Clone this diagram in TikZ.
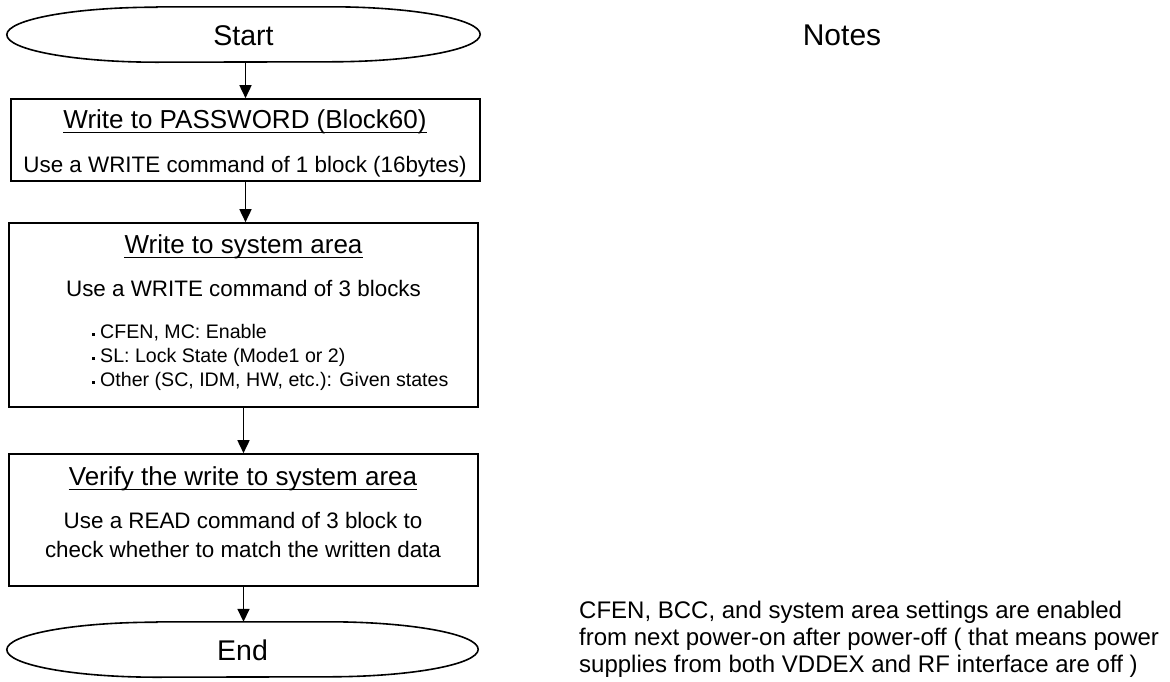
\documentclass[tikz,border=0pt]{standalone}
\usepackage{fontspec}
\setmainfont{Liberation Sans}
\usetikzlibrary{arrows.meta}
\tikzset{
 box/.style={draw, line width=1.6pt, inner sep=0pt, rectangle},
 termnode/.style={inner sep=0pt, rectangle},
 term/.style={line width=1.6pt},
 flow/.style={line width=1.6pt, -{Triangle[length=13pt,width=12pt]}},
 ttl/.style={inner sep=0pt, anchor=base, font=\fontsize{26}{30}\selectfont},
 body/.style={inner sep=0pt, anchor=base, font=\fontsize{22.4}{27}\selectfont},
 bul/.style={inner sep=0pt, anchor=base west, font=\fontsize{19.6}{24}\selectfont},
 big/.style={inner sep=0pt, anchor=base, font=\fontsize{28.5}{34}\selectfont},
 uline/.style={line width=1pt},
 note/.style={inner sep=0pt, anchor=base west, font=\fontsize{24}{27}\selectfont},
}
\newcommand{\bulsq}{\raisebox{2.2pt}{\rule{3pt}{3pt}}\hspace{5pt}}
\begin{document}
\begin{tikzpicture}[x=1pt,y=1pt]
\useasboundingbox (0,0) rectangle (1170,-681);
% terminals
\node[termnode, minimum width=473pt, minimum height=55pt] (start) at (243.5,-34.5) {};
\draw[term] ([xshift=150pt]start.north west) -- ([xshift=-150pt]start.north east)
  arc[start angle=90, end angle=-90, x radius=150pt, y radius=27.5pt]
  -- ([xshift=150pt]start.south west)
  arc[start angle=270, end angle=90, x radius=150pt, y radius=27.5pt] -- cycle;
\node[big] (tstart) at (243.5,-45) {Start};

\node[termnode, minimum width=471pt, minimum height=55pt] (endt) at (242.5,-649.5) {};
\draw[term] ([xshift=150pt]endt.north west) -- ([xshift=-150pt]endt.north east)
  arc[start angle=90, end angle=-90, x radius=150pt, y radius=27.5pt]
  -- ([xshift=150pt]endt.south west)
  arc[start angle=270, end angle=90, x radius=150pt, y radius=27.5pt] -- cycle;
\node[big] (tend) at (242.5,-660) {End};

% boxes
\node[box, minimum width=469pt, minimum height=82pt] (b1) at (245.5,-140) {};
\node[box, minimum width=469pt, minimum height=184pt] (b2) at (243.5,-315) {};
\node[box, minimum width=469pt, minimum height=132pt] (b3) at (243.5,-520) {};

% box 1 text
\node[ttl] (t1) at (245,-128) {Write to PASSWORD (Block60)};
\draw[uline] ([yshift=-4.5pt]t1.base west) -- ([yshift=-4.5pt]t1.base east);
\node[body] (l1) at (245,-172) {Use a WRITE command of 1 block (16bytes)};

% box 2 text
\node[ttl] (t2) at (243.5,-253) {Write to system area};
\draw[uline] ([yshift=-4.5pt]t2.base west) -- ([yshift=-4.5pt]t2.base east);
\node[body] (l2) at (243.5,-296) {Use a WRITE command of 3 blocks};
\node[bul] (p1) at (92,-338) {\bulsq CFEN, MC: Enable};
\node[bul] (p2) at (92,-362) {\bulsq SL: Lock State (Mode1 or 2)};
\node[bul] (p3) at (92,-386) {\bulsq Other (SC, IDM, HW, etc.): Given states};

% box 3 text
\node[ttl] (t3) at (243,-485) {Verify the write to system area};
\draw[uline] ([yshift=-4.5pt]t3.base west) -- ([yshift=-4.5pt]t3.base east);
\node[body] (l3) at (243,-528) {Use a READ command of 3 block to};
\node[body] (l4) at (243,-557) {check whether to match the written data};

% connectors
\draw[flow] (b1.north |- start.south) -- (b1.north);
\draw[flow] (b1.south) -- (b1.south |- b2.north);
\draw[flow] (b2.south) -- (b3.north);
\draw[flow] (b3.south) -- (b3.south |- endt.north);

% notes
\node[inner sep=0pt, anchor=base, font=\fontsize{30}{34}\selectfont] (notes) at (842,-45) {Notes};
\node[note] (n1) at (579,-618) {CFEN, BCC, and system area settings are enabled};
\node[note] (n2) at (579,-645) {from next power-on after power-off ( that means power};
\node[note] (n3) at (579,-672) {supplies from both VDDEX and RF interface are off )};
\end{tikzpicture}
\end{document}
